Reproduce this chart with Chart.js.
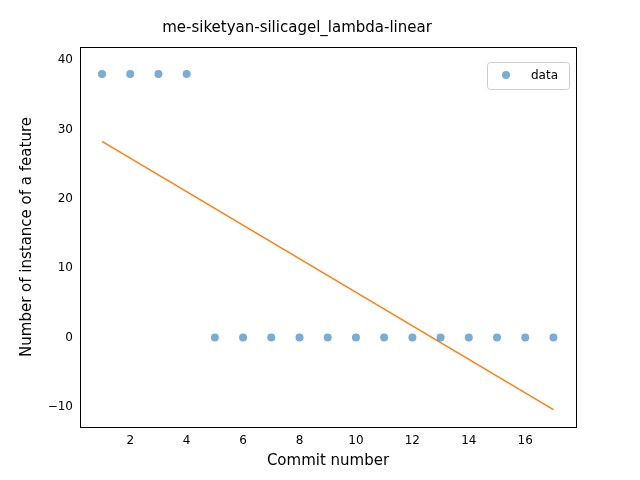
<!DOCTYPE html>
<html>
<head>
<meta charset="utf-8">
<script src="https://cdn.jsdelivr.net/npm/chart.js@4/dist/chart.umd.min.js"></script>
<style>
  body { margin: 0; background: #fff; }
  canvas { display: block; }
</style>
</head>
<body>
<canvas id="chart" width="640" height="480"></canvas>
<script>
// Data
const commits = [1, 2, 3, 4, 5, 6, 7, 8, 9, 10, 11, 12, 13, 14, 15, 16, 17];
const counts = [38, 38, 38, 38, 0, 0, 0, 0, 0, 0, 0, 0, 0, 0, 0, 0, 0];
const fitX = [1, 17];
const fitY = [28.3, -10.4];
const xTicks = [2, 4, 6, 8, 10, 12, 14, 16];
const yTicks = [-10, 0, 10, 20, 30, 40];

const font = { family: 'DejaVu Sans', size: 12 };
const titleFont = { family: 'DejaVu Sans', size: 15 };

// legend box + top/right spines, like matplotlib
const extras = {
  id: 'extras',
  afterDraw(chart) {
    const c = chart.ctx;
    const a = chart.chartArea;
    c.save();
    c.strokeStyle = '#000';
    c.lineWidth = 1;
    c.beginPath();
    c.moveTo(a.left, a.top + 0.5);
    c.lineTo(a.right + 0.5, a.top + 0.5);
    c.lineTo(a.right + 0.5, a.bottom);
    c.stroke();

    const x = a.right - 89, y = a.top + 15, w = 82, h = 27;
    c.fillStyle = 'rgba(255,255,255,0.8)';
    c.strokeStyle = '#cccccc';
    c.beginPath();
    c.roundRect(x + 0.5, y + 0.5, w, h, 3);
    c.fill();
    c.stroke();
    c.fillStyle = 'rgba(31,119,180,0.6)';
    c.beginPath();
    c.arc(x + 19, y + 13, 4, 0, Math.PI * 2);
    c.fill();
    c.fillStyle = '#000';
    c.font = '12px "DejaVu Sans"';
    c.textBaseline = 'middle';
    c.fillText('data', x + 44, y + 14);
    c.restore();
  }
};

new Chart(document.getElementById('chart').getContext('2d'), {
  type: 'scatter',
  data: {
    datasets: [
      {
        label: 'data',
        data: commits.map((x, i) => ({ x: x, y: counts[i] })),
        backgroundColor: 'rgba(31,119,180,0.6)',
        borderWidth: 0,
        pointRadius: 4,
        pointHoverRadius: 4,
      },
      {
        label: 'fit',
        type: 'line',
        data: fitX.map((x, i) => ({ x: x, y: fitY[i] })),
        borderColor: '#ff7f0e',
        borderWidth: 1.5,
        pointRadius: 0,
        fill: false,
      },
    ],
  },
  options: {
    responsive: false,
    animation: false,
    layout: { padding: { right: 64, left: 18, bottom: 10 } },
    plugins: {
      legend: { display: false },
      tooltip: { enabled: false },
      title: {
        display: true,
        text: 'me-siketyan-silicagel_lambda-linear',
        color: '#000',
        font: { family: 'DejaVu Sans', size: 15, weight: 'normal' },
        padding: { top: 19, bottom: 10 },
      },
    },
    scales: {
      x: {
        type: 'linear',
        min: 0.22,
        max: 17.8,
        grid: { display: false, drawTicks: true, tickLength: 4, tickColor: '#000' },
        border: { color: '#000' },
        afterBuildTicks: (s) => { s.ticks = xTicks.map((v) => ({ value: v })); },
        afterFit: (s) => { s.height = 43; },
        ticks: { color: '#000', font: font, padding: 3, maxRotation: 0 },
        title: { display: true, text: 'Commit number', color: '#000', font: titleFont, padding: 0 },
      },
      y: {
        type: 'linear',
        min: -12.9,
        max: 41.9,
        grid: { display: false, drawTicks: true, tickLength: 4, tickColor: '#000' },
        border: { color: '#000' },
        afterBuildTicks: (s) => { s.ticks = yTicks.map((v) => ({ value: v })); },
        afterFit: (s) => { s.width = 62; },
        ticks: { color: '#000', font: font, padding: 3, callback: (v) => String(v).replace('-', '\u2212') },
        title: { display: true, text: 'Number of instance of a feature', color: '#000', font: titleFont, padding: 0 },
      },
    },
  },
  plugins: [extras],
});
</script>
</body>
</html>
